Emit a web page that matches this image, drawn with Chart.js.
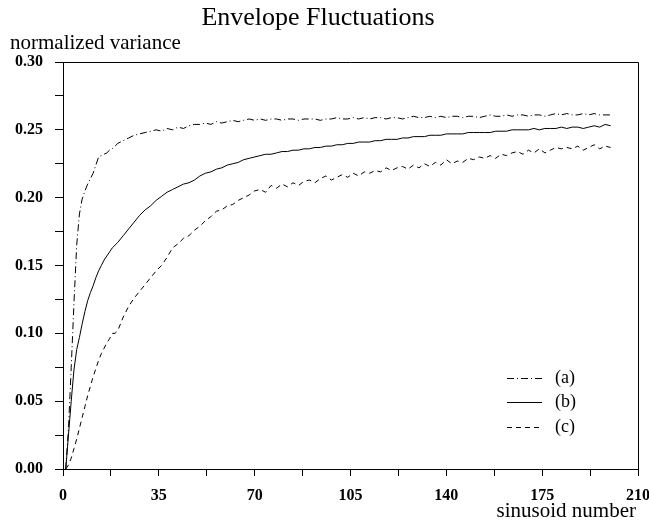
<!DOCTYPE html>
<html>
<head>
<meta charset="utf-8">
<title>Envelope Fluctuations</title>
<script src="https://cdn.jsdelivr.net/npm/chart.js@4/dist/chart.umd.min.js"></script>
<style>
  html, body { margin: 0; padding: 0; background: #fff; }
  canvas { display: block; }
</style>
</head>
<body>
<canvas id="envChart" width="649" height="523"></canvas>
<script>
// sinusoid number (x)
const sinusoids = [
  1, 2, 3, 4, 5, 6, 7, 8, 9, 10,
  11, 12, 13, 14, 15, 16, 17, 18, 19, 20,
  22, 24, 26, 28, 30, 32, 34, 36, 38, 40,
  42, 44, 46, 48, 50, 52, 54, 56, 58, 60,
  62, 64, 66, 68, 70, 72, 74, 76, 78, 80,
  82, 84, 86, 88, 90, 92, 94, 96, 98, 100,
  102, 104, 106, 108, 110, 112, 114, 116, 118, 120,
  122, 124, 126, 128, 130, 132, 134, 136, 138, 140,
  142, 144, 146, 148, 150, 152, 154, 156, 158, 160,
  162, 164, 166, 168, 170, 172, 174, 176, 178, 180,
  182, 184, 186, 188, 190, 192, 194, 196, 198, 200
];

// normalized variance, curve (a)
const varianceA = [
  0.000, 0.030, 0.075, 0.122, 0.165, 0.188, 0.199, 0.205, 0.210, 0.214,
  0.218, 0.224, 0.230, 0.231, 0.232, 0.233, 0.235, 0.236, 0.238, 0.240,
  0.242, 0.244, 0.246, 0.247, 0.248, 0.249, 0.250, 0.249, 0.251, 0.250,
  0.252, 0.251, 0.253, 0.254, 0.254, 0.255, 0.254, 0.256, 0.255, 0.256,
  0.257, 0.256, 0.257, 0.258, 0.257, 0.258, 0.257, 0.258, 0.258, 0.257,
  0.258, 0.258, 0.257, 0.258, 0.258, 0.258, 0.257, 0.258, 0.258, 0.259,
  0.258, 0.258, 0.259, 0.258, 0.259, 0.258, 0.259, 0.259, 0.258, 0.259,
  0.259, 0.258, 0.259, 0.260, 0.259, 0.259, 0.260, 0.259, 0.260, 0.259,
  0.260, 0.260, 0.259, 0.260, 0.260, 0.259, 0.260, 0.261, 0.260, 0.260,
  0.261, 0.260, 0.261, 0.261, 0.260, 0.261, 0.261, 0.260, 0.261, 0.262,
  0.261, 0.262, 0.261, 0.261, 0.262, 0.261, 0.262, 0.261, 0.261, 0.261
];

// curve (b)
const varianceB = [
  0.000, 0.025, 0.050, 0.073, 0.088, 0.097, 0.107, 0.116, 0.124, 0.130,
  0.135, 0.141, 0.146, 0.150, 0.154, 0.157, 0.160, 0.163, 0.165, 0.167,
  0.172, 0.177, 0.182, 0.187, 0.191, 0.194, 0.198, 0.201, 0.204, 0.206,
  0.208, 0.210, 0.211, 0.213, 0.216, 0.218, 0.219, 0.221, 0.222, 0.224,
  0.225, 0.226, 0.228, 0.229, 0.230, 0.231, 0.232, 0.232, 0.233, 0.234,
  0.234, 0.235, 0.235, 0.236, 0.236, 0.237, 0.237, 0.238, 0.238, 0.239,
  0.239, 0.240, 0.240, 0.241, 0.241, 0.241, 0.242, 0.242, 0.243, 0.243,
  0.243, 0.244, 0.244, 0.245, 0.245, 0.245, 0.246, 0.246, 0.246, 0.247,
  0.247, 0.247, 0.247, 0.248, 0.248, 0.248, 0.248, 0.248, 0.249, 0.249,
  0.249, 0.250, 0.250, 0.250, 0.250, 0.251, 0.250, 0.251, 0.251, 0.251,
  0.252, 0.251, 0.252, 0.252, 0.251, 0.252, 0.253, 0.252, 0.254, 0.253
];

// curve (c)
const varianceC = [
  0.000, 0.003, 0.008, 0.015, 0.022, 0.030, 0.038, 0.046, 0.054, 0.061,
  0.068, 0.074, 0.080, 0.085, 0.089, 0.093, 0.096, 0.100, 0.100, 0.102,
  0.112, 0.120, 0.126, 0.131, 0.136, 0.141, 0.146, 0.150, 0.156, 0.163,
  0.166, 0.170, 0.172, 0.176, 0.179, 0.183, 0.186, 0.190, 0.191, 0.194,
  0.195, 0.198, 0.200, 0.202, 0.205, 0.206, 0.204, 0.209, 0.207, 0.210,
  0.208, 0.211, 0.209, 0.212, 0.213, 0.211, 0.214, 0.216, 0.213, 0.215,
  0.217, 0.215, 0.218, 0.216, 0.219, 0.218, 0.220, 0.219, 0.222, 0.220,
  0.222, 0.223, 0.221, 0.224, 0.222, 0.225, 0.223, 0.226, 0.224, 0.228,
  0.225, 0.227, 0.226, 0.229, 0.228, 0.230, 0.229, 0.231, 0.229, 0.232,
  0.231, 0.233, 0.234, 0.232, 0.235, 0.233, 0.236, 0.233, 0.235, 0.237,
  0.236, 0.237, 0.236, 0.238, 0.235, 0.237, 0.239, 0.236, 0.238, 0.237
];

const seriesLabels = ['(a)', '(b)', '(c)'];
const seriesDash = [[7, 3, 1, 3], [], [5, 4]];

const SERIF = "'Liberation Serif', 'Times New Roman', serif";

const toPoints = (values) => sinusoids.map((x, i) => ({ x, y: values[i] }));

// white background, frame, titles and the in-plot legend
const decorations = {
  id: 'decorations',
  beforeDraw(chart) {
    const { ctx, width, height } = chart;
    ctx.save();
    ctx.fillStyle = '#fff';
    ctx.fillRect(0, 0, width, height);
    ctx.restore();
  },
  afterDraw(chart) {
    const { ctx, chartArea: a } = chart;
    ctx.save();
    ctx.strokeStyle = '#000';
    ctx.lineWidth = 1;
    ctx.beginPath();
    ctx.moveTo(a.left, a.top + 0.5);
    ctx.lineTo(a.right + 0.5, a.top + 0.5);
    ctx.lineTo(a.right + 0.5, a.bottom);
    ctx.stroke();

    ctx.fillStyle = '#000';
    ctx.textBaseline = 'alphabetic';
    ctx.font = `26px ${SERIF}`;
    ctx.textAlign = 'center';
    ctx.fillText('Envelope Fluctuations', 318, 25);

    ctx.font = `21px ${SERIF}`;
    ctx.textAlign = 'left';
    ctx.fillText('normalized variance', 10, 49);
    ctx.textAlign = 'right';
    ctx.fillText('sinusoid number', 636, 517);

    // legend
    const rows = [378, 402, 427];
    ctx.font = `18px ${SERIF}`;
    ctx.textAlign = 'left';
    ctx.textBaseline = 'middle';
    rows.forEach((y, i) => {
      ctx.setLineDash(seriesDash[i]);
      ctx.beginPath();
      ctx.moveTo(507, y + 0.5);
      ctx.lineTo(542, y + 0.5);
      ctx.stroke();
      ctx.setLineDash([]);
      ctx.fillText(seriesLabels[i], 555, y);
    });
    ctx.restore();
  }
};

const tickFont = { family: SERIF, size: 16, weight: 'bold' };

new Chart(document.getElementById('envChart').getContext('2d'), {
  type: 'line',
  data: {
    datasets: [varianceA, varianceB, varianceC].map((vals, i) => ({
      label: seriesLabels[i],
      data: toPoints(vals),
      borderColor: '#000',
      borderWidth: 1,
      borderDash: seriesDash[i],
      pointRadius: 0,
      tension: 0,
      fill: false
    }))
  },
  options: {
    responsive: false,
    animation: false,
    layout: { padding: { top: 62, right: 11, left: 0, bottom: 0 } },
    plugins: {
      legend: { display: false },
      tooltip: { enabled: false },
      title: { display: false }
    },
    scales: {
      x: {
        type: 'linear',
        min: 0,
        max: 210,
        border: { display: true, color: '#000', width: 1 },
        grid: { drawOnChartArea: false, drawTicks: true, tickLength: 7, color: '#000' },
        ticks: {
          stepSize: 17.5,
          autoSkip: false,
          maxRotation: 0,
          padding: 10,
          color: '#000',
          font: tickFont,
          callback: (v) => (v % 35 === 0 ? String(v) : '')
        },
        afterFit: (scale) => {
          scale.height = 54;
          scale.paddingLeft = 0;
          scale.paddingRight = 0;
        }
      },
      y: {
        min: 0,
        max: 0.3,
        border: { display: true, color: '#000', width: 1 },
        grid: { drawOnChartArea: false, drawTicks: true, tickLength: 8, color: '#000' },
        ticks: {
          stepSize: 0.025,
          autoSkip: false,
          padding: 12,
          color: '#000',
          font: tickFont,
          callback: (v) => (Math.round(v * 1000) % 50 === 0 ? v.toFixed(2) : '')
        },
        afterFit: (scale) => {
          scale.width = 63;
          scale.paddingTop = 0;
          scale.paddingBottom = 0;
        }
      }
    }
  },
  plugins: [decorations]
});
</script>
</body>
</html>
